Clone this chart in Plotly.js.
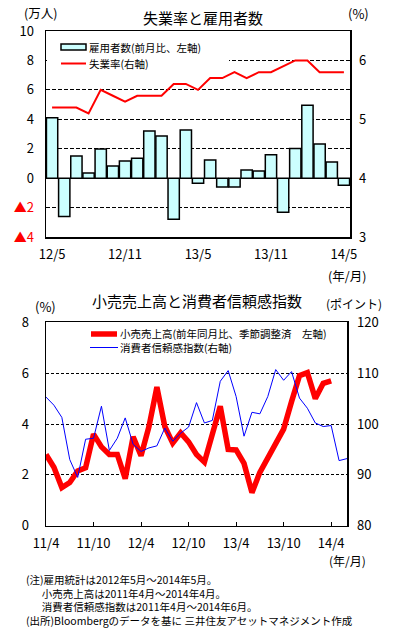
<!DOCTYPE html>
<html><head><meta charset="utf-8">
<script src="https://cdn.plot.ly/plotly-3.0.1.min.js"></script>
<style>html,body{margin:0;padding:0;background:#fff;}#chart{width:398px;height:640px;}</style>
</head><body><div id="chart"></div>
<script>
// ---------- Chart 1 data: employment change & unemployment rate ----------
const empMonths = ["12/5","12/6","12/7","12/8","12/9","12/10","12/11","12/12","13/1","13/2","13/3","13/4","13/5","13/6","13/7","13/8","13/9","13/10","13/11","13/12","14/1","14/2","14/3","14/4","14/5"];
const employmentChange = [4.1,-2.6,1.5,0.35,1.98,0.82,1.16,1.36,3.2,2.86,-2.8,3.27,-0.34,1.23,-0.61,-0.61,0.55,0.48,1.59,-2.32,2.02,4.95,2.32,1.09,-0.48];
const unemploymentRate = [5.2,5.2,5.2,5.1,5.5,5.4,5.3,5.4,5.4,5.4,5.6,5.6,5.5,5.7,5.7,5.8,5.7,5.8,5.8,5.9,6.0,6.0,5.8,5.8,5.8];
const empTickVals = ["12/5","12/11","13/5","13/11","14/5"];
const empLeftTickVals = [-4,-2,0,2,4,6,8,10];
const empLeftTickText = ['<span style="color:#ff0000">▲4</span>','<span style="color:#ff0000">▲2</span>','0','2','4','6','8','10'];
const empRightTickVals = [3,4,5,6];

// ---------- Chart 2 data: retail sales & consumer confidence ----------
const surveyMonths = ["11/4","11/5","11/6","11/7","11/8","11/9","11/10","11/11","11/12","12/1","12/2","12/3","12/4","12/5","12/6","12/7","12/8","12/9","12/10","12/11","12/12","13/1","13/2","13/3","13/4","13/5","13/6","13/7","13/8","13/9","13/10","13/11","13/12","14/1","14/2","14/3","14/4","14/5","14/6"];
const retailMonths = surveyMonths.slice(0, 37);
const retailSales = [2.8,2.3,1.5,1.7,2.15,2.28,3.6,3.1,2.8,2.8,1.85,3.5,2.75,3.9,5.45,3.9,3.25,3.65,3.3,2.8,2.5,3.65,4.7,3.0,2.98,2.45,1.3,2.1,2.68,3.28,3.8,4.88,5.9,6.02,5.0,5.6,5.7];
const consumerConfidence = [105.3,103.7,101.3,93.0,89.5,97.0,97.2,103.5,94.8,97.2,101.2,96.0,94.6,95.3,95.7,99.2,96.6,98.2,99.4,104.2,100.2,100.7,108.4,110.5,105.4,97.6,102.3,102.0,105.4,110.7,108.6,110.3,105.1,103.1,100.2,99.5,99.7,92.8,93.2];
const retailTickVals = ["11/4","11/10","12/4","12/10","13/4","13/10","14/4"];

const legend2Lines = ['小売売上高(前年同月比、季節調整済　左軸)', '消費者信頼感指数(右軸)'];
const noteLines = [
  '(注)雇用統計は2012年5月～2014年5月。',
  '\u3000\u2002小売売上高は2011年4月～2014年4月。',
  '\u3000\u2002消費者信頼感指数は2011年4月～2014年6月。',
  '(出所)Bloombergのデータを基に 三井住友アセットマネジメント作成'
];

const W = 398, H = 640;
const fx = v => v / W, fy = v => 1 - v / H;
const FONT = '"Noto Sans CJK JP", "Noto Sans", sans-serif';

const traces = [
  {type:'bar', x: empMonths, y: employmentChange, xaxis:'x', yaxis:'y',
   marker:{color:'#ccffff', line:{color:'#000', width:1.5}}, hoverinfo:'skip'},
  {type:'scatter', mode:'lines', x: empMonths, y: unemploymentRate, xaxis:'x', yaxis:'y2',
   line:{color:'#ff0000', width:2}, hoverinfo:'skip'},
  {type:'scatter', mode:'lines', x: surveyMonths, y: consumerConfidence, xaxis:'x2', yaxis:'y4',
   line:{color:'#0000ff', width:1}, hoverinfo:'skip'},
  {type:'scatter', mode:'lines', x: retailMonths, y: retailSales, xaxis:'x2', yaxis:'y3',
   line:{color:'#ff0000', width:5.5}, hoverinfo:'skip'}
];

const axLine = {showline:true, linecolor:'#000', linewidth:1.5, mirror:true};

function ann(text, x, y, size, xanchor, extra) {
  return Object.assign({text, x: fx(x), y: fy(y), xref:'paper', yref:'paper', showarrow:false,
    xanchor: xanchor || 'center', yanchor:'middle', borderpad:0,
    font:{size, color:'#000', family:FONT}}, extra||{});
}

const layout = {
  width: W, height: H,
  margin:{l:0, r:0, t:0, b:0},
  paper_bgcolor:'#fff', plot_bgcolor:'#fff',
  showlegend:false,
  bargap:0.07,
  font:{family:FONT, size:13, color:'#000'},
  xaxis: Object.assign({domain:[fx(46), fx(350)], anchor:'y', type:'category',
    range:[-0.5, 24.5], tickmode:'array', tickvals: empTickVals, ticks:'', showgrid:false,
    ticklabelstandoff:5, tickfont:{size:13}}, axLine),
  yaxis: Object.assign({domain:[fy(237), fy(31)], anchor:'x', range:[-4,10],
    tickmode:'array', tickvals: empLeftTickVals, ticktext: empLeftTickText, ticks:'',
    showgrid:true, gridcolor:'#000', gridwidth:1, griddash:'4px,2px',
    zeroline:true, zerolinecolor:'#000', zerolinewidth:1, ticklabelstandoff:8}, axLine),
  yaxis2: {overlaying:'y', side:'right', anchor:'x', range:[3,6.5], tickmode:'array',
    tickvals: empRightTickVals, ticks:'', showgrid:false, zeroline:false, showline:false,
    ticklabelstandoff:8},
  xaxis2: Object.assign({domain:[fx(46), fx(347)], anchor:'y3', type:'category',
    range:[0, 38], tickmode:'array', tickvals: retailTickVals, ticks:'inside', ticklen:4,
    tickcolor:'#000', tickwidth:1, showgrid:false, ticklabelstandoff:5}, axLine),
  yaxis3: Object.assign({domain:[fy(525.7), fy(322.3)], anchor:'x2', range:[0,8], dtick:2,
    tick0:0, ticks:'', showgrid:true, gridcolor:'#000', gridwidth:1, griddash:'3px,2px',
    zeroline:false, ticklabelstandoff:13}, axLine),
  yaxis4: {overlaying:'y3', side:'right', anchor:'x2', range:[80,120], dtick:10, tick0:80,
    ticks:'', showgrid:false, zeroline:false, showline:false, ticklabelstandoff:9},
  shapes: [
    // chart 1 legend background
    {type:'rect', xref:'paper', yref:'paper', x0:fx(47), x1:fx(229), y0:fy(72), y1:fy(38),
     fillcolor:'#fff', line:{width:0}, layer:'above'},
    {type:'rect', xref:'paper', yref:'paper', x0:fx(61), x1:fx(86), y0:fy(50), y1:fy(44),
     fillcolor:'#ccffff', line:{color:'#000', width:1.5}, layer:'above'},
    {type:'line', xref:'paper', yref:'paper', x0:fx(61), x1:fx(86), y0:fy(63.5), y1:fy(63.5),
     line:{color:'#ff0000', width:2}, layer:'above'},
    // chart 2 legend
    {type:'line', xref:'paper', yref:'paper', x0:fx(91), x1:fx(117), y0:fy(334), y1:fy(334),
     line:{color:'#ff0000', width:5.5}, layer:'above'},
    {type:'line', xref:'paper', yref:'paper', x0:fx(90), x1:fx(118), y0:fy(347.5), y1:fy(347.5),
     line:{color:'#0000ff', width:1}, layer:'above'}
  ],
  annotations: [
    ann('失業率と雇用者数', 203, 17, 15),
    ann('(万人)', 40, 12, 12.5),
    ann('(%)', 358, 14, 13),
    ann('(年/月)', 347, 275, 12.5),
    ann('雇用者数(前月比、左軸)', 88, 47, 10.5, 'left'),
    ann('失業率(右軸)', 88, 63.5, 10.5, 'left'),
    ann('小売売上高と消費者信頼感指数', 197, 300, 15),
    ann('(%)', 45, 306, 13),
    ann('(ポイント)', 354, 303, 12),
    ann('(年/月)', 347, 560, 12),
    ann(legend2Lines.join('<br>'), 119, 340.8, 10.5, 'left', {align:'left'}),
    ann(noteLines.join('<br>'), 25, 599.5, 10.5, 'left', {align:'left'})
  ]
};

Plotly.newPlot('chart', traces, layout, {staticPlot:true, displayModeBar:false});
</script>
</body></html>
